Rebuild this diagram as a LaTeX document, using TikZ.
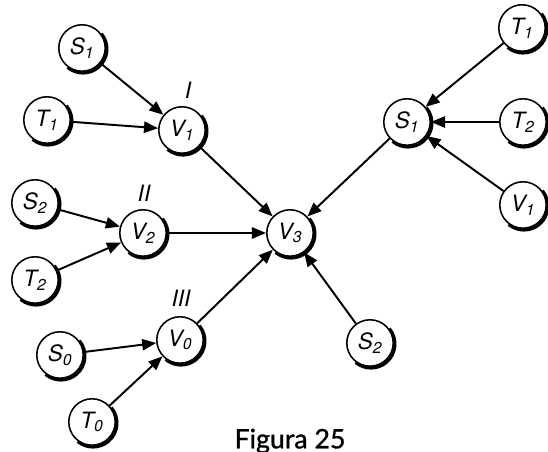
\documentclass[tikz,border=0pt]{standalone}
\usepackage{fontspec}
\setsansfont{TeX Gyre Heros}
\newfontfamily\didafont{Lato}[FakeBold=1.2]
\usetikzlibrary{arrows.meta}

\begin{document}
\begin{tikzpicture}[
  x=0.025cm, y=-0.025cm,
  nodo/.style={circle, draw=black, line width=1.1pt, minimum size=1.16cm,
               inner sep=0pt, font=\fontsize{16}{18}\sffamily\itshape},
  freccia/.style={draw=black, line width=1.4pt, -{Triangle[length=10pt,width=8pt]}},
  ombra/.style={line width=2.2pt},
  numero/.style={font=\fontsize{16}{18}\sffamily\itshape}
]
\useasboundingbox (0,0) rectangle (548,452);

% gruppo I
\node[nodo] (S1a) at (82,48)  {S\textsubscript{1}};
\node[nodo] (T1a) at (47,120) {T\textsubscript{1}};
\node[nodo] (V1)  at (182,130) {V\textsubscript{1}};
\node[numero] (nI) at (188,90) {I};

% gruppo II
\node[nodo] (S2a) at (35,203) {S\textsubscript{2}};
\node[nodo] (T2a) at (35,280) {T\textsubscript{2}};
\node[nodo] (V2)  at (143,233) {V\textsubscript{2}};
\node[numero] (nII) at (144,193) {II};

% gruppo III
\node[nodo] (S0) at (60,355)  {S\textsubscript{0}};
\node[nodo] (T0) at (92,422)  {T\textsubscript{0}};
\node[nodo] (V0) at (180,340) {V\textsubscript{0}};
\node[numero] (nIII) at (181,298) {III};

% centro e ramo destro
\node[nodo] (V3)  at (290,233) {V\textsubscript{3}};
\node[nodo] (S2b) at (370,343) {S\textsubscript{2}};
\node[nodo] (S1b) at (407,122) {S\textsubscript{1}};
\node[nodo] (T1b) at (522,28)  {T\textsubscript{1}};
\node[nodo] (T2b) at (523,122) {T\textsubscript{2}};
\node[nodo] (V1b) at (523,205) {V\textsubscript{1}};

% ombre
\foreach \n in {S1a,T1a,V1,S2a,T2a,V2,S0,T0,V0,V3,S2b,S1b,T1b,T2b,V1b}
  \draw[ombra] ([shift={(1,1)}]\n.40) arc[start angle=40, end angle=-130, radius=0.6cm];

% frecce
\draw[freccia] (S1a) -- (V1);
\draw[freccia] (T1a) -- (V1);
\draw[freccia] (S2a) -- (V2);
\draw[freccia] (T2a) -- (V2);
\draw[freccia] (S0) -- (V0);
\draw[freccia] (T0) -- (V0);
\draw[freccia] (V1) -- (V3);
\draw[freccia] (V2) -- (V3);
\draw[freccia] (V0) -- (V3);
\draw[freccia] (S1b) -- (V3);
\draw[freccia] (S2b) -- (V3);
\draw[freccia] (T1b) -- (S1b);
\draw[freccia] (T2b) -- (S1b);
\draw[freccia] (V1b) -- (S1b);

\node[font=\fontsize{19}{22}\didafont] (dida) at (290,441) {Figura 25};

\end{tikzpicture}
\end{document}
